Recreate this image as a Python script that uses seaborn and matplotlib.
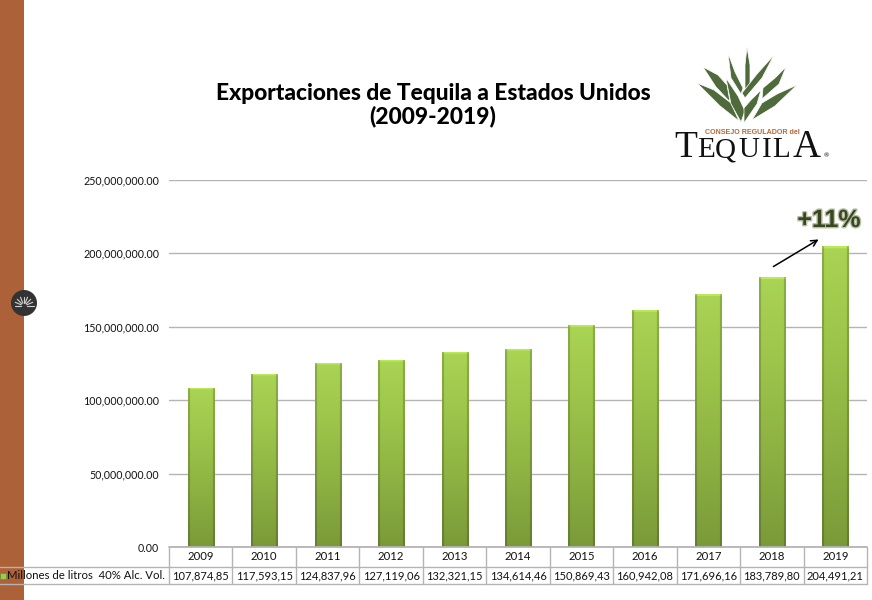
import numpy as np
import pandas as pd
import matplotlib
matplotlib.use("Agg")
import matplotlib.pyplot as plt
import seaborn as sns
from matplotlib.colors import LinearSegmentedColormap
from matplotlib.patches import Circle, Polygon, Rectangle
import matplotlib.patheffects as pe

YEARS = ["2009", "2010", "2011", "2012", "2013", "2014", "2015", "2016", "2017", "2018", "2019"]
TABLE_VALUES = [
    "107,874,85", "117,593,15", "124,837,96", "127,119,06", "132,321,15", "134,614,46",
    "150,869,43", "160,942,08", "171,696,16", "183,789,80", "204,491,21",
]
LITERS = [107874850, 117593150, 124837960, 127119060, 132321150, 134614460,
          150869430, 160942080, 171696160, 183789800, 204491210]
Y_TICKS = [0, 50000000, 100000000, 150000000, 200000000, 250000000]
ROW_LABEL = "Millones de litros  40% Alc. Vol."
TITLE = "Exportaciones de Tequila a Estados Unidos\n(2009-2019)"

W, H = 872, 600
GRID = "#b4b4b4"
FONT = "Lato"

# agave logo outline, page pixels
LEAVES = [
    [(747, 47), (750, 65), (750, 84), (745, 90), (745, 65)],
    [(728, 53), (735, 72), (743, 88), (741, 94), (731, 78)],
    [(703, 67), (718, 75), (727, 85), (730, 102), (716, 87)],
    [(774, 55), (762, 78), (745, 98), (742, 93), (757, 74)],
    [(786, 67), (779, 84), (762, 99), (763, 88), (775, 78)],
    [(697, 83), (714, 90), (731, 103), (739, 121), (720, 106)],
    [(797, 85), (777, 94), (762, 103), (752, 120), (775, 106)],
    [(726, 78), (738, 96), (745, 111), (741, 122), (731, 104)],
    [(761, 90), (757, 104), (744, 123), (744, 108), (751, 100)],
]
# logo wordmark: letter, left edge, font size
LOGO_LETTERS = [("T", 674, 27), ("E", 697, 21), ("Q", 715, 21), ("U", 738, 21),
                ("I", 762, 21), ("L", 772, 21), ("A", 793, 28)]

sns.set_theme(style="white")
plt.rcParams["font.family"] = [FONT, "DejaVu Sans"]

df = pd.DataFrame({"year": YEARS, "liters": LITERS})

fig = plt.figure(figsize=(W / 100, H / 100), dpi=100, facecolor="white")
ax = fig.add_axes([169 / W, 1 - 547 / H, 698 / W, 367 / H])

sns.barplot(data=df, x="year", y="liters", width=0.41, color="#8fb63f", ax=ax, zorder=3)
ax.set_yticks(Y_TICKS)
ax.set_yticklabels([f"{v:,.2f}" for v in Y_TICKS], fontsize=7.7, color="#111111")
ax.set_xticks([])
ax.set_xlabel("")
ax.set_ylabel("")
ax.tick_params(axis="y", length=0, pad=7)
ax.yaxis.grid(True, color=GRID, lw=1)
ax.set_axisbelow(True)
sns.despine(ax=ax, left=True, bottom=True, top=True, right=True)

# gradient + bevel on each bar
bar_cmap = LinearSegmentedColormap.from_list("bar", ["#aad454", "#9cc44a", "#8cb042", "#7a9a39"])
for patch in ax.patches:
    x0, w = patch.get_x(), patch.get_width()
    h = patch.get_height()
    patch.set_alpha(0)
    grad = np.linspace(0, 1, 256)[:, None]
    rgb = bar_cmap(grad)[:, :, :3].repeat(26, axis=1)
    rgb[:, :2] *= 0.82
    rgb[:, -2:] *= 0.82
    rgb[:2, :] = np.clip(rgb[:2, :] * 1.1, 0, 1)
    ax.imshow(rgb, extent=(x0, x0 + w, 0, h), origin="upper", aspect="auto",
              interpolation="bilinear", zorder=3)
ax.set_xlim(-0.5, 10.5)
ax.set_ylim(0, 250000000)

# page overlay in pixel coords
page = fig.add_axes([0, 0, 1, 1], facecolor="none")
page.set_xlim(0, W)
page.set_ylim(H, 0)
page.axis("off")

page.add_patch(Rectangle((0, 0), 24, H, color="#ad6138", lw=0, zorder=1))
page.add_patch(Circle((24, 303), 13, color="#333333", lw=0, zorder=2))
for ang in np.radians([180, 157, 135, 112, 90, 68, 45, 23, 0]):
    page.plot([24 + 3 * np.cos(ang), 24 + 9.5 * np.cos(ang)],
              [306 - 3 * np.sin(ang), 306 - 9.5 * np.sin(ang)], color="#d0d0d0", lw=0.8, zorder=3)

# data table under the axis
col_w = 698 / len(YEARS)
page.plot([0, 867], [567, 567], color=GRID, lw=1, zorder=2)
page.plot([0, 867], [584, 584], color=GRID, lw=1, zorder=2)
page.plot([169, 867], [547, 547], color=GRID, lw=1.3, zorder=2)
for i in range(len(YEARS) + 1):
    x = 169 + i * col_w
    page.plot([x, x], [547, 584], color=GRID, lw=1, zorder=2)
for i, (year, val) in enumerate(zip(YEARS, TABLE_VALUES)):
    cx = 169 + (i + 0.5) * col_w
    page.text(cx, 556.5, year, ha="center", va="center", fontsize=8.2, color="#111111", zorder=4)
    page.text(cx, 575.5, val, ha="center", va="center", fontsize=8.0, color="#111111", zorder=4)
page.add_patch(Rectangle((0, 572.5), 6, 6, facecolor="#a2c94c", edgecolor="#6f9136", lw=0.6, zorder=4))
page.text(165, 575.5, ROW_LABEL, ha="right", va="center", fontsize=8.2, color="#111111", zorder=4)

page.text(433, 105, TITLE, ha="center", va="center", fontsize=16.4, fontweight=900,
          color="black", linespacing=1.12, zorder=4)

# +11% callout
page.annotate("", xy=(821, 238), xytext=(771, 268),
              arrowprops=dict(arrowstyle="->", color="black", lw=1.1, mutation_scale=11), zorder=5)
page.text(829, 220, "+11%", ha="center", va="center", fontsize=18, fontweight="bold",
          family="Liberation Sans", color="#37471f", zorder=5,
          path_effects=[pe.withStroke(linewidth=2, foreground="#b9bfa8")])

# logo
for leaf in LEAVES:
    page.add_patch(Polygon(leaf, closed=True, facecolor="#4f6b3c", edgecolor="white", lw=0.5, zorder=4))
page.text(705, 132, "CONSEJO REGULADOR del", ha="left", va="center", fontsize=5.1,
          fontweight="bold", color="#b5683a", family="Liberation Sans", zorder=5)
for letter, left, size in LOGO_LETTERS:
    page.text(left, 157, letter, ha="left", va="baseline", fontsize=size,
              family="Liberation Serif", color="#111111", zorder=4)
page.text(824, 156, "®", ha="left", va="center", fontsize=4.5, color="#111111", zorder=4)

fig.savefig("out.png", dpi=100, facecolor="white")
